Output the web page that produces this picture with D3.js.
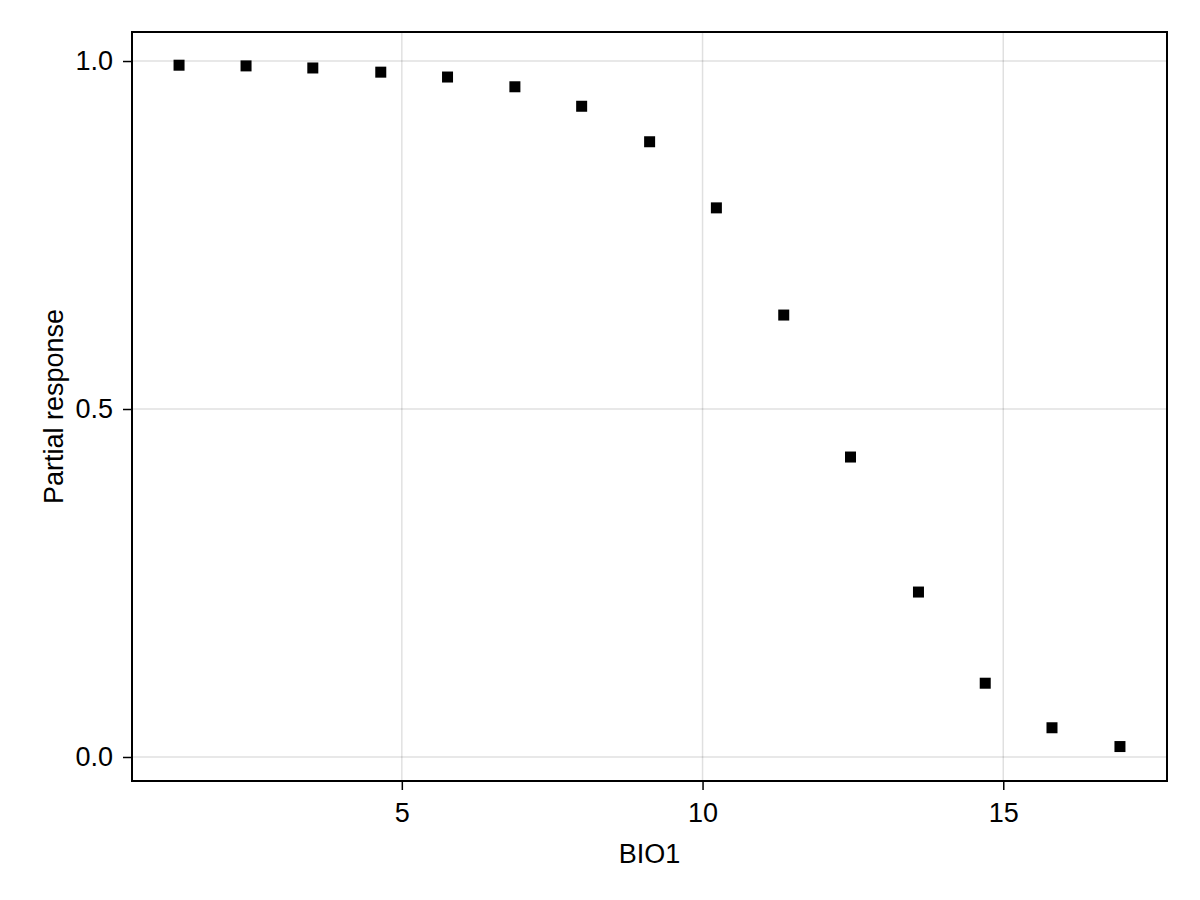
<!DOCTYPE html>
<html>
<head>
<meta charset="utf-8">
<script src="https://cdn.jsdelivr.net/npm/d3@7"></script>
<style>
  body { margin: 0; background: #fff; }
  svg { font-family: "Liberation Sans", Arial, sans-serif; }
</style>
</head>
<body>
<script>
// data
const bio1 = [1.296, 2.41, 3.52, 4.65, 5.76, 6.88, 7.99, 9.12, 10.23, 11.35, 12.46, 13.59, 14.70, 15.81, 16.94];
const response = [0.994, 0.993, 0.990, 0.984, 0.977, 0.963, 0.935, 0.884, 0.789, 0.635, 0.431, 0.237, 0.106, 0.042, 0.015];
const xTicks = [5, 10, 15];
const yTicks = [0.0, 0.5, 1.0];

const W = 1200, H = 900;
const margin = {top: 32, right: 33, bottom: 119, left: 132};
const width = W - margin.left - margin.right,
    height = H - margin.top - margin.bottom;

const svg = d3.select("body").append("svg")
    .attr("width", W)
    .attr("height", H);

const g = svg.append("g")
    .attr("transform", "translate(" + margin.left + "," + margin.top + ")");

// 5% padding like the original
const xr = d3.extent(bio1), xpad = (xr[1] - xr[0]) * 0.05;
const x = d3.scaleLinear().domain([xr[0] - xpad, xr[1] + xpad]).range([0, width]);
const y = d3.scaleLinear().domain([-0.0345, 1.0417]).range([height, 0]);

// grid
g.append("g").selectAll("line").data(xTicks).join("line")
    .attr("x1", d => x(d)).attr("x2", d => x(d))
    .attr("y1", 0).attr("y2", height)
    .attr("stroke", "#000").attr("stroke-opacity", 0.12).attr("stroke-width", 1.5);
g.append("g").selectAll("line").data(yTicks).join("line")
    .attr("y1", d => y(d)).attr("y2", d => y(d))
    .attr("x1", 0).attr("x2", width)
    .attr("stroke", "#000").attr("stroke-opacity", 0.12).attr("stroke-width", 1.5);

// axes
const xAxis = g.append("g")
    .attr("transform", "translate(0," + height + ")")
    .call(d3.axisBottom(x).tickValues(xTicks).tickFormat(d3.format("d")).tickSize(9).tickPadding(13));
const yAxis = g.append("g")
    .call(d3.axisLeft(y).tickValues(yTicks).tickFormat(d3.format(".1f")).tickSize(9).tickPadding(10));

[xAxis, yAxis].forEach(a => {
  a.select(".domain").remove();
  a.attr("font-size", null).attr("font-family", null);
  a.selectAll("text").style("font-size", "27px").attr("fill", "#000");
  a.selectAll(".tick line").attr("stroke", "#000").attr("stroke-width", 1.5);
});

// frame
g.append("rect")
    .attr("width", width).attr("height", height)
    .attr("fill", "none").attr("stroke", "#000").attr("stroke-width", 2);

// points
const sz = 11;
g.append("g").selectAll("rect").data(bio1).join("rect")
    .attr("x", (d, i) => x(d) - sz / 2)
    .attr("y", (d, i) => y(response[i]) - sz / 2)
    .attr("width", sz).attr("height", sz)
    .attr("fill", "#000");

// labels
svg.append("text")
    .attr("x", margin.left + width / 2).attr("y", 863)
    .attr("text-anchor", "middle").style("font-size", "27px")
    .text("BIO1");
svg.append("text")
    .attr("transform", "translate(63," + (margin.top + height / 2) + ") rotate(-90)")
    .attr("text-anchor", "middle").style("font-size", "27px")
    .text("Partial response");
</script>
</body>
</html>
